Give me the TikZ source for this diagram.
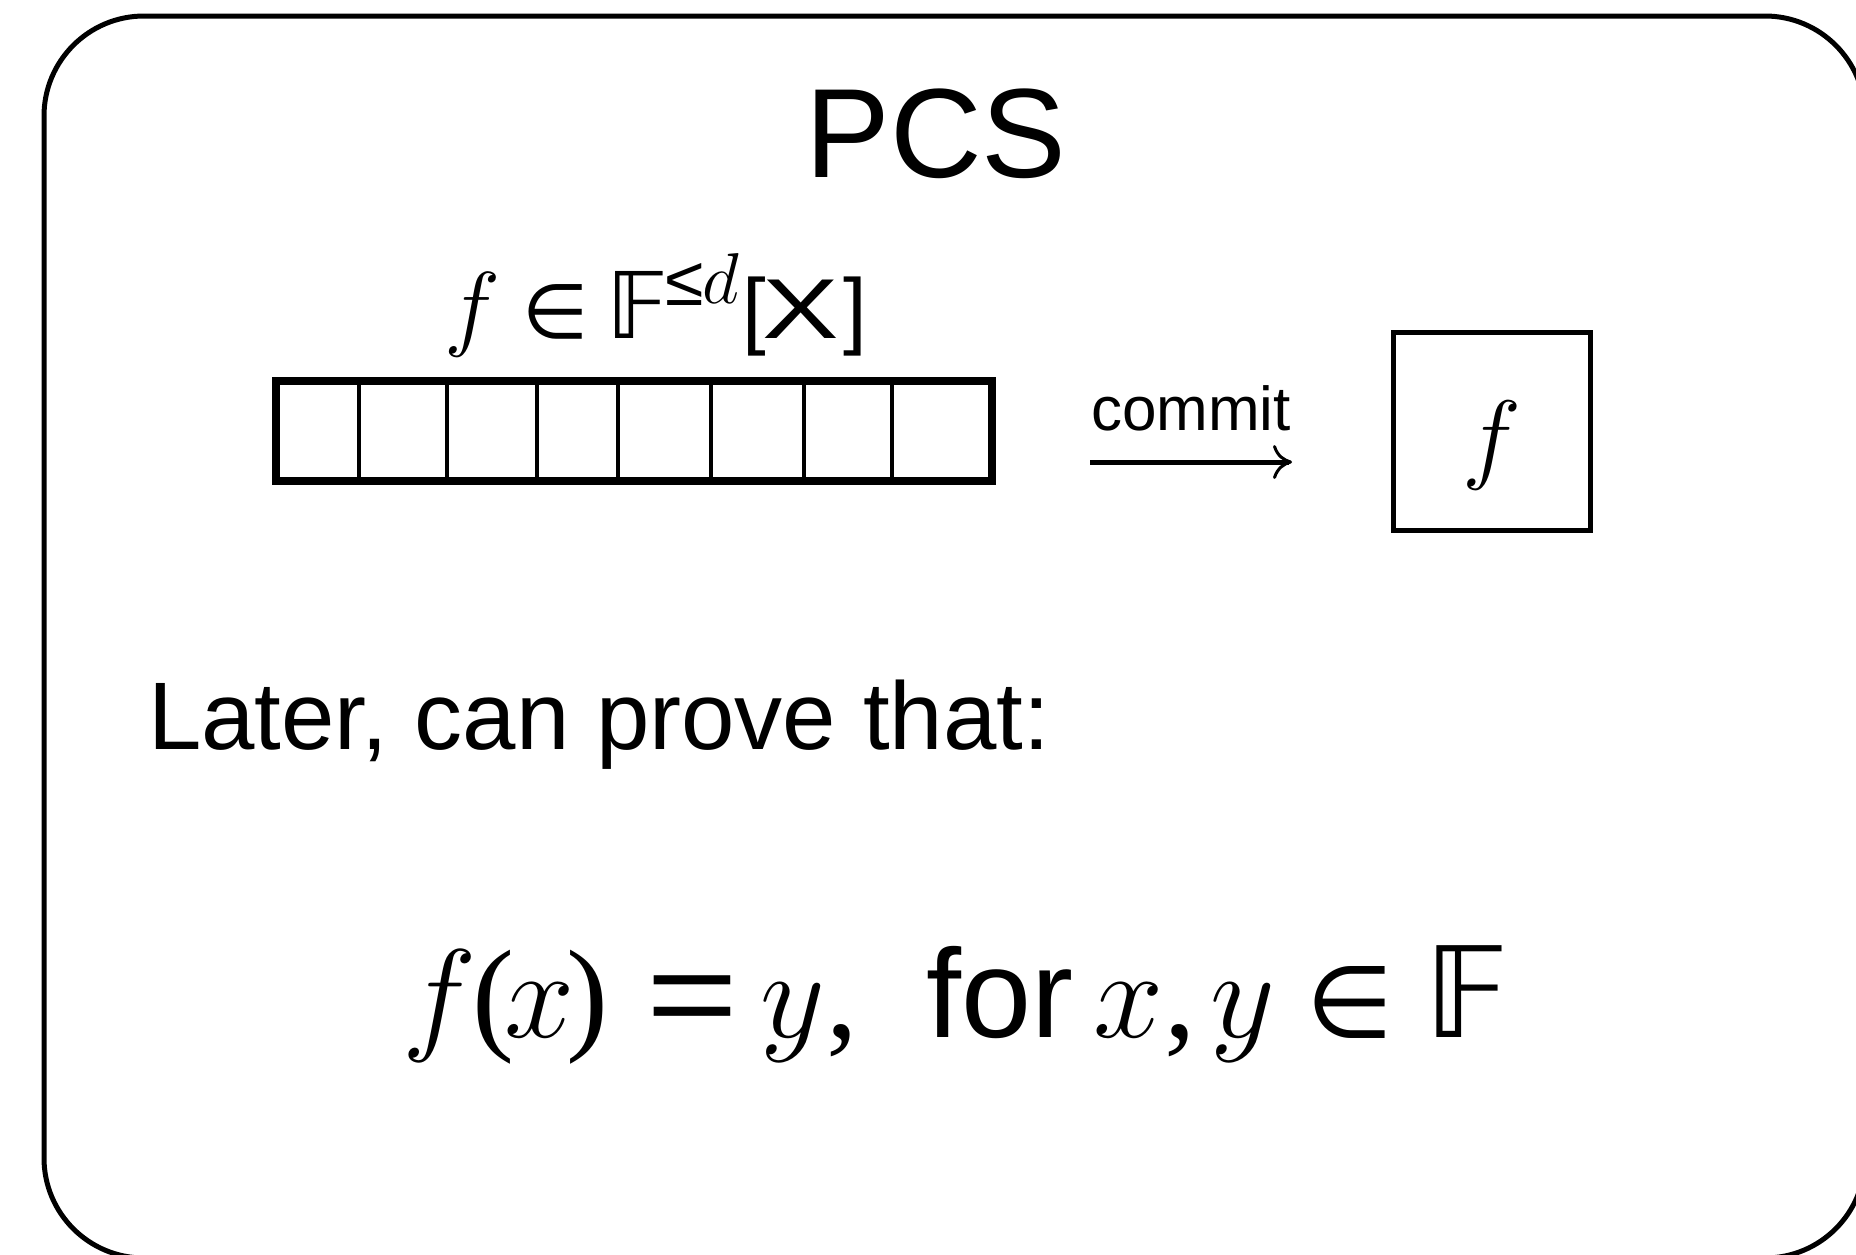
\documentclass[tikz,border=0pt]{standalone}
\usepackage{fix-cm}
\usepackage{graphicx}
\usepackage{fontspec}
\setmainfont{Liberation Sans}
\newfontfamily\tms{Liberation Serif}
\newfontfamily\dvs{DejaVu Sans}
\usetikzlibrary{arrows.meta}
\newcommand{\fsz}[1]{\fontsize{#1}{#1}\selectfont}
\newcommand{\putat}[2]{\rlap{\hspace*{#1pt}#2}}
\begin{document}
\begin{tikzpicture}[x=1pt,y=-1pt,
  txt/.style={inner sep=0pt, outer sep=0pt, anchor=base},
  framebox/.style={draw, line width=5pt, rounded corners=100pt, inner sep=0pt},
  cellrow/.style={draw, line width=7.5pt, inner sep=0pt},
  divider/.style={line width=4pt},
  valbox/.style={draw, line width=5pt, inner sep=0pt},
  commitarrow/.style={line width=5pt, -{To[length=19pt,width=34pt,line width=3pt]}}]
\useasboundingbox (0,0) rectangle (1856,1254);

% outer frame
\node[framebox, minimum width=1821pt, minimum height=1242pt] (frame) at (954.5,637) {};

% title
\node[txt] (title) at (936,177) {\fsz{127}PCS};

% polynomial
\node[txt, anchor=base west] (fdef) at (440,338) {%
  \putat{4}{\fsz{95}$f$}%
  \putat{82}{\dvs\fsz{76}∈}%
  \putat{166}{\dvs\fsz{92}𝔽}%
  \putat{225}{\raisebox{33pt}{\fsz{70}≤}}%
  \putat{262}{\raisebox{35pt}{\fsz{72}$d$}}%
  \putat{302}{\fsz{85}[}%
  \putat{322}{\fsz{85}\scalebox{1.35}[1]{X}}%
  \putat{403}{\fsz{85}]}};

% cell row
\node[cellrow, minimum width=716pt, minimum height=100pt] (array) at (634,431) {};
\foreach \xx in {359,447,537,618,711,804,892}
  \draw[divider] (\xx,0 |- array.north) -- (\xx,0 |- array.south);

% commit arrow
\coordinate (cstart) at (1090,462);
\coordinate (cend) at (1292,462);
\draw[commitarrow] (cstart) -- (cend);
\node[txt] (commitlbl) at (1191,430) {\fsz{62}commit};

% committed value
\node[valbox, minimum width=197pt, minimum height=198pt] (box) at (1492,431.5) {};
\node[txt, anchor=base west] (boxf) at (1462,470) {\fsz{100}$f$};

% later text
\node[txt, anchor=base west] (later) at (148,749) {\fsz{96}Later, can prove that:};

% claim
\node[txt, anchor=base west] (claim) at (400,1037) {\fsz{126}%
  \putat{2}{$f$}%
  \putat{72}{\tms(}%
  \putat{104}{$x$}%
  \putat{166}{\tms)}%
  \putat{246}{\scalebox{1.25}[1]{=}}%
  \putat{360}{$y$}%
  \putat{426}{\tms,}%
  \putat{526}{for}%
  \putat{693}{$x$}%
  \putat{764}{\tms,}%
  \putat{810}{$y$}%
  \putat{906}{\dvs\fsz{100}∈}%
  \putat{1024}{\dvs 𝔽}};
\end{tikzpicture}
\end{document}
